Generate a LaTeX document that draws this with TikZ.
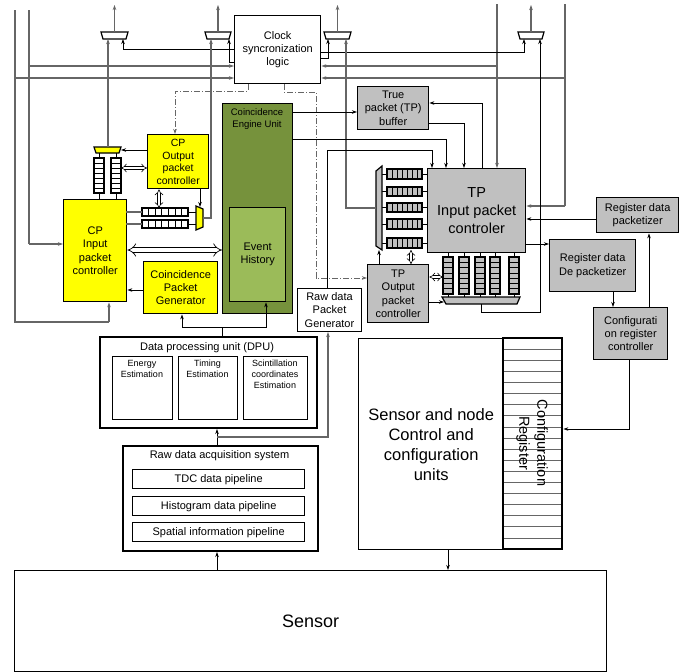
\documentclass[tikz,border=0pt]{standalone}
\usepackage{fontspec}
\setmainfont{Liberation Sans}
\usetikzlibrary{arrows.meta}
\definecolor{cpy}{HTML}{FFFF00}
\definecolor{tpg}{HTML}{C0C0C0}
\definecolor{ceu}{HTML}{76923C}
\definecolor{evh}{HTML}{9BBB59}
\definecolor{ln}{HTML}{666666}
\newcommand{\hqueue}[5]{%
  \draw[line width=1.1pt, fill=#5] (#1,#2) rectangle (#3,#4);
  \foreach \k in {1,...,6} \draw[line width=0.5pt] ({#1+(#3-#1)*\k/7},#2) -- ({#1+(#3-#1)*\k/7},#4);}
\newcommand{\vqueue}[5]{%
  \draw[line width=1.1pt, fill=#5] (#1,#2) rectangle (#3,#4);
  \foreach \k in {1,...,6} \draw[line width=0.5pt] (#1,{#2+(#4-#2)*\k/7}) -- (#3,{#2+(#4-#2)*\k/7});}
\newcommand{\fs}[2]{\fontsize{#1}{#2}\selectfont}
\begin{document}
\begin{tikzpicture}[x=1pt,y=-1pt,
  >={Stealth[length=5pt,width=3.5pt]},
  box/.style={draw, line width=1.4pt, inner sep=1pt, align=center, anchor=north west, font=\fs{11}{13.3}},
  wire/.style={draw=black, line width=0.7pt},
  bus/.style={draw=ln, line width=1.1pt},
  arr/.style={wire, ->},
  barr/.style={bus, ->},
  dd/.style={double, double distance=2.4pt, line width=0.6pt, {Implies}-{Implies}},
  ddbig/.style={double, double distance=4pt, line width=0.7pt, {Implies}-{Implies}},
  dashdot/.style={draw=ln, line width=0.9pt, dash pattern=on 6pt off 2pt on 1pt off 2pt},
  mux/.style={draw, line width=1.2pt, fill=white}]
\useasboundingbox (0,0) rectangle (686,672);

% ---------- boxes ----------
\node[box, minimum width=86, minimum height=68] (clock) at (234,15) {Clock\\syncronization\\logic};
\node[box, fill=ceu, minimum width=70, minimum height=210] (ceu) at (222,103) {};
\node[align=center, font=\fs{9.5}{12}] (ceut) at (257,119) {Coincidence\\Engine Unit};
\node[box, fill=evh, minimum width=56, minimum height=94] (evh) at (229,207) {Event\\History};
\node[box, fill=tpg, minimum width=71, minimum height=43] (tpbuf) at (357,86) {True\\packet (TP)\\buffer};
\node[box, fill=tpg, minimum width=98, minimum height=84, font=\fs{14.5}{18}] (tpin) at (427,168) {TP\\Input packet\\controler};
\node[box, fill=tpg, minimum width=82, minimum height=35] (rpk) at (596,197) {Register data\\packetizer};
\node[box, fill=tpg, minimum width=86, minimum height=52] (rdpk) at (549,239) {Register data\\De packetizer};
\node[box, fill=tpg, minimum width=74, minimum height=52] (cfgc) at (593,307) {Configurati\\on register\\controller};
\node[box, fill=tpg, minimum width=61, minimum height=58] (tpout) at (367,264) {TP\\Output\\packet\\controller};
\node[box, fill=cpy, minimum width=61, minimum height=54, font=\fs{10.5}{12.5}] (cpout) at (147,134) {CP\\Output\\packet\\controller};
\node[box, fill=cpy, minimum width=63, minimum height=102] (cpin) at (63,199) {CP\\Input\\packet\\controller};
\node[box, fill=cpy, minimum width=74, minimum height=52] (cpg) at (143,261) {Coincidence\\Packet\\Generator};
\node[box, line width=1pt, minimum width=64, minimum height=43] (rpg) at (297,288) {Raw data\\Packet\\Generator};

% DPU
\node[box, line width=2pt, minimum width=217, minimum height=91] (dpu) at (99,336) {};
\node[font=\fs{11}{13}] (dput) at (207,348) {Data processing unit (DPU)};
\node[box, minimum width=60, minimum height=63] (en) at (112,356) {};
\node[box, minimum width=59, minimum height=63] (ti) at (178,356) {};
\node[box, minimum width=64, minimum height=63] (sc) at (243,356) {};
\node[anchor=north, align=center, font=\fs{9}{11}, inner sep=0] at (142,360) {Energy\\Estimation};
\node[anchor=north, align=center, font=\fs{9}{11}, inner sep=0] at (207.5,360) {Timing\\Estimation};
\node[anchor=north, align=center, font=\fs{9}{11}, inner sep=0] at (275,360) {Scintillation\\coordinates\\Estimation};

% Raw data acquisition
\node[box, line width=2pt, minimum width=195, minimum height=105] (raw) at (122,445) {};
\node[font=\fs{11}{13}] (rawt) at (219.5,456) {Raw data acquisition system};
\node[box, minimum width=172, minimum height=19] (tdc) at (132,469) {TDC data pipeline};
\node[box, minimum width=172, minimum height=19] (his) at (132,496) {Histogram data pipeline};
\node[box, minimum width=172, minimum height=19] (spa) at (132,522) {Spatial information pipeline};

% Sensor & node
\node[box, minimum width=145, minimum height=211, font=\fs{16.5}{20}] (snc) at (358,338) {Sensor and node\\Control and\\configuration\\units};
\node[box, minimum width=59, minimum height=211] (creg) at (503,338) {};
\foreach \i in {1,...,18} \draw[draw=ln, line width=0.6pt] (504,{338+\i*211/19}) -- (561,{338+\i*211/19});
\draw[line width=1.4pt] (503,338) rectangle (562,549);
\node[rotate=-90, align=center, font=\fs{14.5}{18}] (cregt) at (532,443) {Configuration\\Register};

% Sensor
\node[box, line width=1.2pt, minimum width=592, minimum height=101, font=\fs{18}{22}] (sensor) at (14,570) {Sensor};

% ---------- muxes at top ----------
\draw[mux] (101,32) -- (128,32) -- (126,39) -- (103,39) -- cycle;
\draw[mux] (205,32) -- (231,32) -- (229,39) -- (207,39) -- cycle;
\draw[mux] (324,32) -- (351,32) -- (349,39) -- (326,39) -- cycle;
\draw[mux] (518,32) -- (544,32) -- (542,39) -- (520,39) -- cycle;
\draw[barr] (114.5,32) -- (114.5,5);
\draw[barr] (218,32) -- (218,5);
\draw[barr] (337.5,32) -- (337.5,5);
\draw[barr] (531,32) -- (531,5);

% ---------- CP queues and muxes ----------
\vqueue{94}{158}{104}{193}{white}
\vqueue{111}{158}{121}{193}{white}
\draw[mux, fill=cpy] (94,147) -- (121,147) -- (119,153) -- (96,153) -- cycle;
\draw[wire] (99,153) -- (99,158) (116,153) -- (116,158);
\draw[wire] (99,193) -- (99,199) (116,193) -- (116,199);
\hqueue{142}{208}{188}{216}{white}
\hqueue{142}{220}{188}{228}{white}
\draw[mux, fill=cpy] (196,206) -- (203,209) -- (203,227) -- (196,230) -- cycle;
\draw[bus] (126,212) -- (142,212) (126,224) -- (142,224);
\draw[wire] (188,212) -- (196,212) (188,224) -- (196,224);

% ---------- TP queues and muxes ----------
\foreach \a/\b in {169/179,187/196,203/212,219/229,238/248}{
  \hqueue{387}{\a}{422}{\b}{tpg}
  \draw[wire] (422,{(\a+\b)/2}) -- (427,{(\a+\b)/2});
  \draw[wire] (382,{(\a+\b)/2}) -- (387,{(\a+\b)/2});
}
\draw[mux, fill=tpg] (382,166) -- (382,250) -- (376,246) -- (376,171) -- cycle;
\foreach \c in {448,464,480,495,514}{
  \vqueue{\c-5}{257}{\c+5}{294}{tpg}
  \draw[wire] (\c,252) -- (\c,257) (\c,294) -- (\c,297);
}
\draw[mux, fill=tpg] (442,297) -- (520,297) -- (517,304) -- (446,304) -- cycle;

% ---------- connectors ----------
% left buses
\draw[bus] (15,10) -- (15,322) -- (109,322);
\draw[barr] (109,322) -- (cpin.south -| 109,0);
\draw[barr] (15,78) -- (clock.west |- 0,78);
\draw[bus] (29,10) -- (29,244);
\draw[barr] (29,244) -- (cpin.west |- 0,244);
\draw[barr] (29,66) -- (clock.west |- 0,66);
% right buses
\draw[barr] (497,4) -- (tpin.north -| 497,0);
\draw[barr] (497,66) -- (clock.east |- 0,66);
\draw[bus] (565,4) -- (565,206);
\draw[barr] (565,206) -- (tpin.east |- 0,206);
\draw[barr] (565,78) -- (clock.east |- 0,78);
% clock to muxes
\draw[arr] (clock.west |- 0,49) -- (123,49) -- (123,39);
\draw[arr] (clock.west |- 0,62) -- (229,62) -- (229,39);
\draw[arr] (clock.east |- 0,58) -- (328,58) -- (328,39);
\draw[arr] (clock.east |- 0,52) -- (524,52) -- (524,39);
% mux feeds from below
\draw[barr] (108,147) -- (108,39);
\draw[barr] (203,218) -- (211,218) -- (211,39);
\draw[barr] (376,208) -- (346,208) -- (346,39);
\draw[arr] (481,304) -- (481,312) -- (540,312) -- (540,39);
% dash-dot
\draw[dashdot, ->] (clock.south -| 248,0) -- (248,91) -- (175,91) -- (cpout.north -| 175,0);
\draw[dashdot, ->] (clock.south -| 284,0) -- (284,92) -- (316,92) -- (316,278) -- (tpout.west |- 0,278);
% CEU
\draw[arr] (ceu.east |- 0,112) -- (tpbuf.west |- 0,112);
\draw[arr] (ceu.east |- 0,139) -- (446,139) -- (tpin.north -| 446,0);
% TP buffer
\draw[arr] (tpin.north -| 482,0) -- (482,103) -- (tpbuf.east |- 0,103);
\draw[arr] (tpbuf.east |- 0,123) -- (464,123) -- (tpin.north -| 464,0);
% raw PG to TP
\draw[arr] (rpg.north -| 327,0) -- (327,150) -- (432,150) -- (tpin.north -| 432,0);
% register path
\draw[arr] (rpk.west |- 0,219) -- (tpin.east |- 0,219);
\draw[arr] (tpin.east |- 0,244) -- (rdpk.west |- 0,244);
\draw[arr] (rdpk.south -| 613,0) -- (cfgc.north -| 613,0);
\draw[arr] (cfgc.north -| 649,0) -- (rpk.south -| 649,0);
\draw[arr] (cfgc.south -| 629,0) -- (629,429) -- (creg.east |- 0,429);
% TP output controller
\draw[arr] (tpout.north -| 379,0) -- (379,250);
\draw[dd] (411,250) -- (tpout.north -| 411,0);
\draw[dd] (tpout.east |- 0,277) -- (443,277);
\draw[arr] (tpout.east |- 0,302) -- (444,302);
% CP
\draw[arr] (cpout.west |- 0,150) -- (121,150);
\draw[dd] (121,168) -- (cpout.west |- 0,168);
\draw[dd] (cpout.south -| 159,0) -- (159,208);
\draw[arr] (cpout.south -| 200,0) -- (200,207);
\draw[ddbig] (cpin.east |- 0,250) -- (ceu.west |- 0,250);
\draw[arr] (cpg.west |- 0,290) -- (cpin.east |- 0,290);
% DPU outputs
\draw[wire] (dpu.north -| 222,0) -- (222,327);
\draw[arr] (182,327) -- (cpg.south -| 182,0);
\draw[arr] (182,327) -- (266,327) -- (evh.south -| 266,0);
% raw acquisition
\draw[arr] (raw.north -| 217,0) -- (dpu.south -| 217,0);
\draw[barr] (217,437) -- (328,437) -- (rpg.south -| 328,0);
\draw[arr] (sensor.north -| 217,0) -- (raw.south -| 217,0);
\draw[arr] (snc.south -| 448,0) -- (sensor.north -| 448,0);
\end{tikzpicture}
\end{document}
